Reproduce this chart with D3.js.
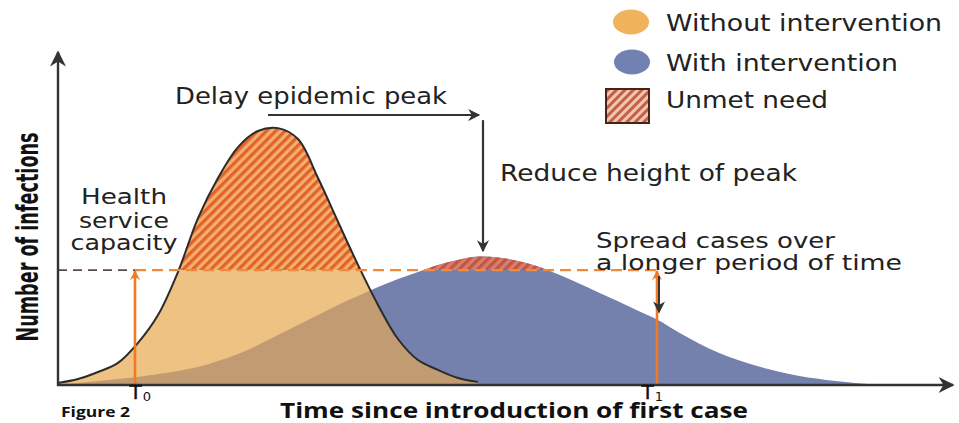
<!DOCTYPE html>
<html><head><meta charset="utf-8">
<script src="https://cdn.jsdelivr.net/npm/d3@7"></script>
<style>body{margin:0;background:#fff}svg{display:block}</style>
</head><body>
<svg id="chart" width="959" height="423"></svg>
<script>
// ---------------- data ----------------
const time = [0,2,4,6,8,10,12,14,16,18,20,22,24,26,28,30,32,34,36,38,40,42,44,46,48,50,52,54,56,58,60,62,64,66,68,70,72,74,76,78,80,82,84];
const withoutIntervention = [0.8,2.3,5.0,8.5,16.2,26.9,43.5,64.2,79.6,91.5,97.7,98.8,94.6,79.6,62.8,46.2,30.8,17.7,9.6,5.8,2.7,1.2];
const withIntervention = [0.3,0.8,1.5,2.3,3.1,4.2,5.4,6.9,9.2,11.9,15.4,19.2,23.1,26.9,30.8,34.2,37.7,40.8,43.5,46.2,48.1,49.4,49.0,47.7,45.6,42.6,39.2,35.7,32.2,28.6,25.0,20.4,16.2,12.5,9.6,7.2,5.2,3.6,2.4,1.4,0.7,0.2,0];
const capacity = 44.2;
const tickTimes = [7.7, 58.9];
const tickSubs = ["0", "1"];
const markerTimes = [7.7, 59.9];
const legendLabels = ["Without intervention", "With intervention", "Unmet need"];

// ---------------- setup ----------------
const svg = d3.select("#chart");
const W = 959, H = 423;
const x = d3.scaleLinear().domain([0, 89.4]).range([58, 952]);
const y = d3.scaleLinear().domain([0, 100]).range([385, 125]);

const cOrange = "#eec283", cBrown = "#c19b72", cBlue = "#7581ad";
const cLine = "#2b2b2b", cMark = "#f07a26", cText = "#222";
const font = "'DejaVu Sans', Verdana, sans-serif";

const oData = withoutIntervention.map((v, i) => ({t: time[i], v}));
const bData = withIntervention.map((v, i) => ({t: time[i], v}));

const defs = svg.append("defs");
function hatch(id, bg, fg, size) {
  const p = defs.append("pattern").attr("id", id)
    .attr("patternUnits", "userSpaceOnUse").attr("width", size).attr("height", size)
    .attr("patternTransform", "rotate(45)");
  p.append("rect").attr("width", size).attr("height", size).attr("fill", bg);
  p.append("rect").attr("width", size / 2).attr("height", size).attr("fill", fg);
}
hatch("hO", "#f4ae6d", "#e1632a", 6.5);
hatch("hB", "#d5806a", "#c45545", 6.5);
hatch("hL", "#f3c6ae", "#c2604a", 6);

function marker(id, color, w, h) {
  defs.append("marker").attr("id", id).attr("viewBox", "0 0 10 10")
    .attr("refX", 9).attr("refY", 5).attr("markerUnits", "userSpaceOnUse")
    .attr("markerWidth", w).attr("markerHeight", h).attr("orient", "auto")
    .append("path").attr("d", "M0,0 L10,5 L0,10 L3,5 Z").attr("fill", color);
}
marker("aAxis", "#333", 18, 16);
marker("aBlack", "#333", 14, 12);
marker("aOrange", cMark, 10, 10);

const curve = d3.curveCatmullRom.alpha(0.5);
const areaGen = d3.area().x(d => x(d.t)).y0(y(0)).y1(d => y(Math.max(0, d.v))).curve(curve);
const lineGen = d3.line().x(d => x(d.t)).y(d => y(d.v)).curve(curve);

defs.append("clipPath").attr("id", "clipBlue").append("path").attr("d", areaGen(bData));
defs.append("clipPath").attr("id", "clipCap").append("rect")
  .attr("x", 0).attr("y", 0).attr("width", W).attr("height", y(capacity));
defs.append("clipPath").attr("id", "clipAxis").append("rect")
  .attr("x", 0).attr("y", 0).attr("width", W).attr("height", y(0));

// ---------------- areas ----------------
const plot = svg.append("g").attr("clip-path", "url(#clipAxis)");
plot.append("path").attr("d", areaGen(bData)).attr("fill", cBlue);
plot.append("path").attr("d", areaGen(oData)).attr("fill", cOrange);
plot.append("path").attr("d", areaGen(oData)).attr("fill", cBrown).attr("clip-path", "url(#clipBlue)");
plot.append("g").attr("clip-path", "url(#clipCap)").call(g => {
  g.append("path").attr("d", areaGen(oData)).attr("fill", "url(#hO)");
  g.append("path").attr("d", areaGen(bData)).attr("fill", "url(#hB)");
});
plot.append("path").attr("d", lineGen(oData)).attr("fill", "none")
  .attr("stroke", cLine).attr("stroke-width", 2);

// capacity line
svg.append("line").attr("x1", x(0)).attr("x2", x(markerTimes[0]))
  .attr("y1", y(capacity)).attr("y2", y(capacity))
  .attr("stroke", "#5a4a50").attr("stroke-width", 1.8).attr("stroke-dasharray", "9,6");
svg.append("line").attr("x1", x(markerTimes[0])).attr("x2", x(markerTimes[1]))
  .attr("y1", y(capacity)).attr("y2", y(capacity))
  .attr("stroke", "#f08a3a").attr("stroke-width", 2.2).attr("stroke-dasharray", "11,6");

// orange markers
markerTimes.forEach(t => {
  svg.append("line").attr("x1", x(t)).attr("x2", x(t))
    .attr("y1", y(0)).attr("y2", y(capacity) + 1)
    .attr("stroke", cMark).attr("stroke-width", 2.6).attr("marker-end", "url(#aOrange)");
});

// ---------------- axes ----------------
svg.append("line").attr("x1", x(0)).attr("x2", x(0)).attr("y1", y(0) + 1).attr("y2", 52)
  .attr("stroke", "#333").attr("stroke-width", 2.4).attr("marker-end", "url(#aAxis)");
svg.append("line").attr("x1", x(0) - 1).attr("x2", 953).attr("y1", y(0)).attr("y2", y(0))
  .attr("stroke", "#333").attr("stroke-width", 2.4).attr("marker-end", "url(#aAxis)");

const xAxis = d3.axisBottom(x).tickValues(tickTimes).tickSize(0).tickPadding(0).tickFormat(() => "T");
const gx = svg.append("g").attr("transform", `translate(0,${y(0)})`).call(xAxis);
gx.attr("font-size", 20).attr("font-family", font);
gx.select(".domain").remove();
gx.selectAll(".tick text")
  .attr("font-size", 20).attr("fill", "#111").attr("stroke", "#111").attr("stroke-width", 0.4)
  .attr("text-anchor", "start").attr("x", -6)
  .attr("y", 0).attr("dy", "0.72em")
  .each(function(d, i) {
    d3.select(this).append("tspan").attr("font-size", 13).attr("stroke-width", 0)
      .attr("dx", 1).attr("dy", 2).text(tickSubs[i]);
  });

// ---------------- labels ----------------
function label(txt, px, py, opt = {}) {
  const t = svg.append("text").attr("x", px).attr("y", py)
    .attr("font-family", opt.family || font).attr("font-size", opt.size || 23)
    .attr("font-weight", opt.weight || "normal").attr("fill", opt.fill || cText)
    .attr("text-anchor", opt.anchor || "start").text(txt);
  if (opt.len) t.attr("textLength", opt.len).attr("lengthAdjust", "spacingAndGlyphs");
  if (opt.transform) t.attr("transform", opt.transform);
  return t;
}
label("Delay epidemic peak", 175, 104, {len: 272});
label("Reduce height of peak", 500, 181, {len: 297});
label("Health", 124, 204, {anchor: "middle", len: 86, size: 21});
label("service", 124, 228, {anchor: "middle", len: 90, size: 21});
label("capacity", 124, 250, {anchor: "middle", len: 107, size: 21});
label("Spread cases over", 596, 248, {len: 239, size: 20.5});
label("a longer period of time", 596, 270, {len: 306, size: 20.5});

label("Number of infections", 0, 0, {
  family: "'Liberation Sans Narrow', 'DejaVu Sans Condensed', sans-serif",
  size: 31, weight: "bold", anchor: "middle", len: 209, fill: "#111",
  transform: `translate(38,237) rotate(-90)`
});
label("Time since introduction of first case", 280, 418, {
  family: "'Open Sans', sans-serif", size: 21, weight: "bold", len: 468, fill: "#111"});
label("Figure 2", 61, 417, {
  family: "'Open Sans', sans-serif", size: 15, weight: "bold", len: 69, fill: "#111"});

// annotation arrows (in data units)
const delayLevel = 103.8, orangePeakT = 21, bluePeakT = 42.5;
svg.append("line").attr("x1", x(orangePeakT)).attr("x2", x(bluePeakT) - 4)
  .attr("y1", y(delayLevel)).attr("y2", y(delayLevel))
  .attr("stroke", "#333").attr("stroke-width", 2).attr("marker-end", "url(#aBlack)");
svg.append("line").attr("x1", x(bluePeakT)).attr("x2", x(bluePeakT))
  .attr("y1", y(delayLevel) + 5).attr("y2", y(51.5))
  .attr("stroke", "#333").attr("stroke-width", 2.2).attr("marker-end", "url(#aBlack)");
svg.append("line").attr("x1", x(markerTimes[1]) + 2).attr("x2", x(markerTimes[1]) + 2)
  .attr("y1", y(capacity) + 6).attr("y2", y(28))
  .attr("stroke", "#333").attr("stroke-width", 2).attr("marker-end", "url(#aBlack)");

// ---------------- legend ----------------
const lg = svg.append("g");
const rowY = [22, 62, 106];
lg.append("ellipse").attr("cx", 631).attr("cy", rowY[0]).attr("rx", 18).attr("ry", 12.5).attr("fill", "#f1b25c");
lg.append("ellipse").attr("cx", 632).attr("cy", rowY[1]).attr("rx", 18).attr("ry", 12.5).attr("fill", "#7182b2");
lg.append("rect").attr("x", 606).attr("y", 89).attr("width", 43).attr("height", 34)
  .attr("fill", "url(#hL)").attr("stroke", "#4a2318").attr("stroke-width", 2);
const lens = [276, 232, 162];
legendLabels.forEach((d, i) => label(d, 666, rowY[i] + (i === 2 ? 2 : 9), {len: lens[i]}));
</script>
</body></html>
